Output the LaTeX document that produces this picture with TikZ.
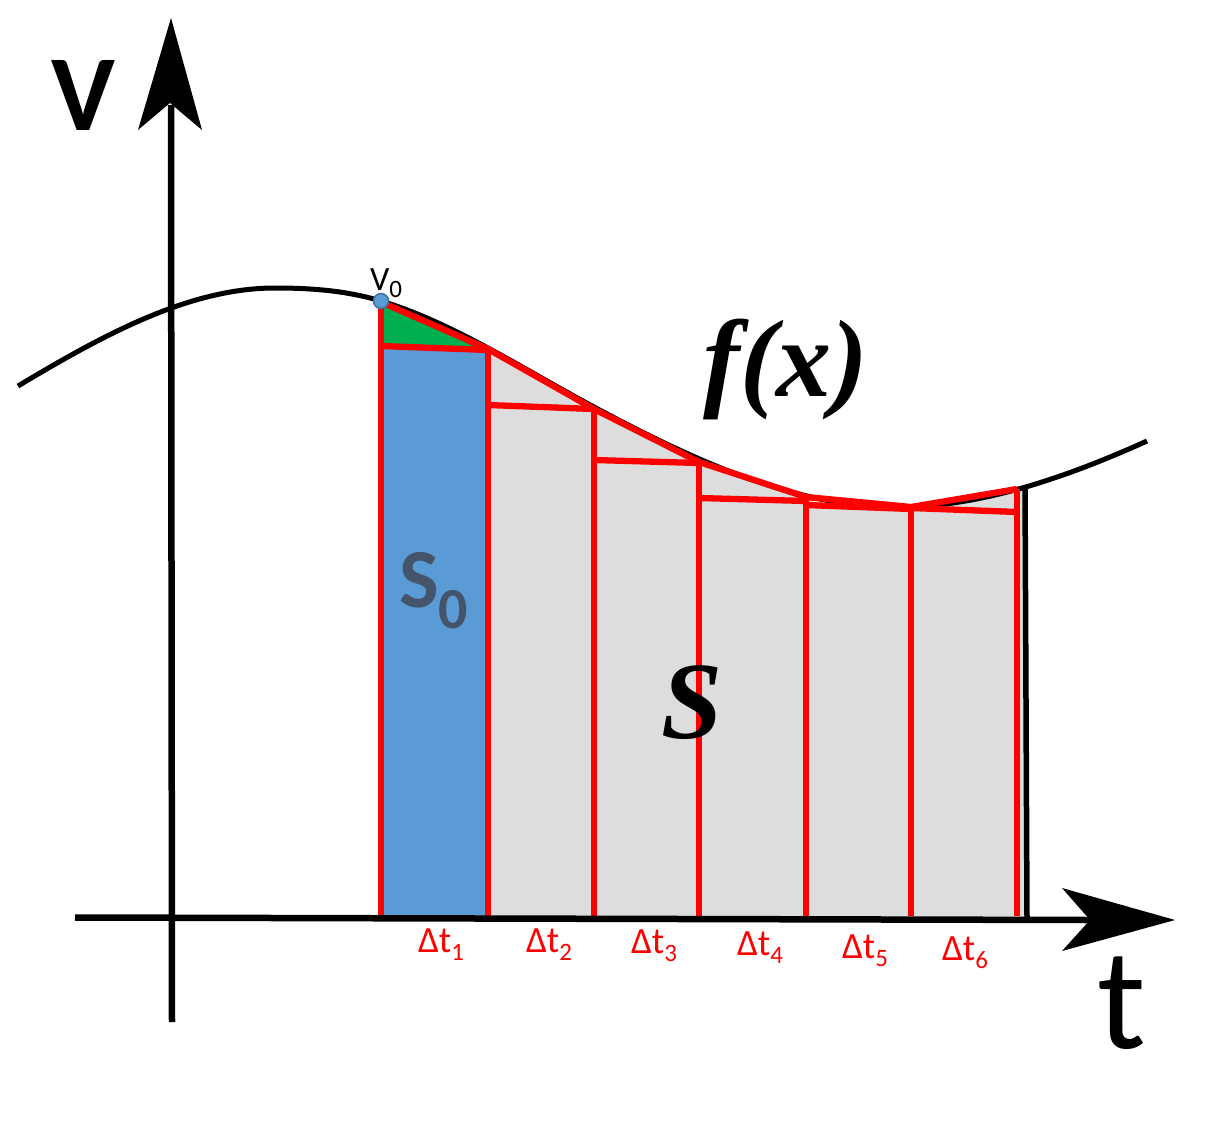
\documentclass[tikz,border=0pt]{standalone}
\usepackage{fontspec}
\setmainfont{Carlito}
\newfontfamily\timesf{Liberation Serif}
\definecolor{areagray}{HTML}{DDDDDD}
\definecolor{sblue}{HTML}{5B9BD5}
\definecolor{sgreen}{HTML}{00B050}
\definecolor{dotedge}{HTML}{41719C}
\definecolor{snavy}{HTML}{44546A}
\tikzset{
  axisline/.style={line width=6.5pt, black},
  curveline/.style={line width=5pt, black},
  redline/.style={line width=6.3pt, red},
  dtlabel/.style={text=red, anchor=base, inner sep=0pt, font=\fontsize{37}{37}\selectfont},
}
\newcommand{\dtl}[1]{Δt\raisebox{-8pt}{\fontsize{25}{25}\selectfont #1}}
\begin{document}
\begin{tikzpicture}[x=1pt,y=-1pt]
\useasboundingbox (0,0) rectangle (1206,1125);
\def\curvepath{(18,386) .. controls (103.7,334.6) and (189.3,288) .. (275,288)
  .. controls (310.3,288) and (345.7,290.4) .. (381,301)
  .. controls (452,322.3) and (523,369) .. (594,407)
  .. controls (699.3,463.3) and (804.7,511.2) .. (910,507)
  .. controls (989,503.8) and (1068,476.6) .. (1147,441)}
% gray area under the curve
\begin{scope}
  \clip (381,0) rectangle (1025,917);
  \fill[areagray] \curvepath -- (1147,917) -- (18,917) -- cycle;
\end{scope}
% blue rectangle and green triangle
\fill[sblue] (381,346) -- (488,350) -- (488,917) -- (381,917) -- cycle;
\fill[sgreen] (381,302) -- (381,346) -- (488,350) -- cycle;
% curve
\draw[curveline] \curvepath;
% right edge
\draw[line width=5.5pt] (1025,485) -- (1027,919);
% red vertical lines
\coordinate (p0) at (381,302);
\coordinate (p1) at (488,349);
\coordinate (p2) at (594,409);
\coordinate (p3) at (699,462);
\coordinate (p4) at (806,497);
\coordinate (p5) at (911,507);
\coordinate (p6) at (1017,489);
\foreach \i/\x in {0/381,1/488,2/594,3/699,4/806,5/911,6/1017}{
  \coordinate (b\i) at (\x,916);
  \draw[redline] (p\i) -- (b\i);
}
% chords
\draw[redline, line join=round] (p0) -- (p1) -- (p2) -- (p3) -- (p4) -- (p5) -- (p6);
% horizontal tops
\draw[redline] (381,346) -- (488,350);
\draw[redline] (488,405) -- (594,409);
\draw[redline] (594,460) -- (699,463);
\draw[redline] (699,498) -- (806,501);
\draw[redline] (806,505) -- (911,509);
\draw[redline] (911,508) -- (1017,512);
% axes
\coordinate (xs) at (75,917.5);
\coordinate (xe) at (1092,920);
\coordinate (ys) at (172,1022);
\coordinate (ye) at (171,105);
\draw[axisline] (xs) -- (xe);
\draw[axisline] (ys) -- (ye);
\fill[black] (171,18) -- (202,130) -- (170,103) -- (138,130) -- cycle;
\fill[black] (1175,920) -- (1062,951) -- (1090,920) -- (1062,888) -- cycle;
% V0 dot
\node[circle, fill=sblue, draw=dotedge, line width=1.5pt, minimum size=15pt, inner sep=0pt] (v0) at (381,301) {};
\node[anchor=base west, inner sep=0pt, font=\fontsize{34}{34}\selectfont] (v0lab) at (370,290) {V\raisebox{-7pt}{\fontsize{25}{25}\selectfont 0}};
% axis labels
\node[anchor=base, inner sep=0pt, font=\bfseries\fontsize{108}{108}\selectfont] (vlab) at (83,130) {V};
\node[anchor=base, inner sep=0pt, font=\fontsize{145}{145}\selectfont] (tlab) at (1122,1048) {t};
% f(x), S, S0
\node[anchor=base, inner sep=0pt, font=\timesf\bfseries\itshape\fontsize{110}{110}\selectfont] (fx) at (786,396) {f(x)};
\node[anchor=base, inner sep=0pt, font=\timesf\bfseries\itshape\fontsize{110}{110}\selectfont] (S) at (692,738) {S};
\node[anchor=base west, inner sep=0pt, text=snavy, font=\bfseries\fontsize{84}{84}\selectfont] (S0) at (399,607) {S\raisebox{-21pt}{\fontsize{58}{58}\selectfont 0}};
% delta t labels
\node[dtlabel] (d1) at (441,952) {\dtl{1}};
\node[dtlabel] (d2) at (549,952) {\dtl{2}};
\node[dtlabel] (d3) at (654,953) {\dtl{3}};
\node[dtlabel] (d4) at (760,955) {\dtl{4}};
\node[dtlabel] (d5) at (865,958) {\dtl{5}};
\node[dtlabel] (d6) at (965,960) {\dtl{6}};
\end{tikzpicture}
\end{document}
